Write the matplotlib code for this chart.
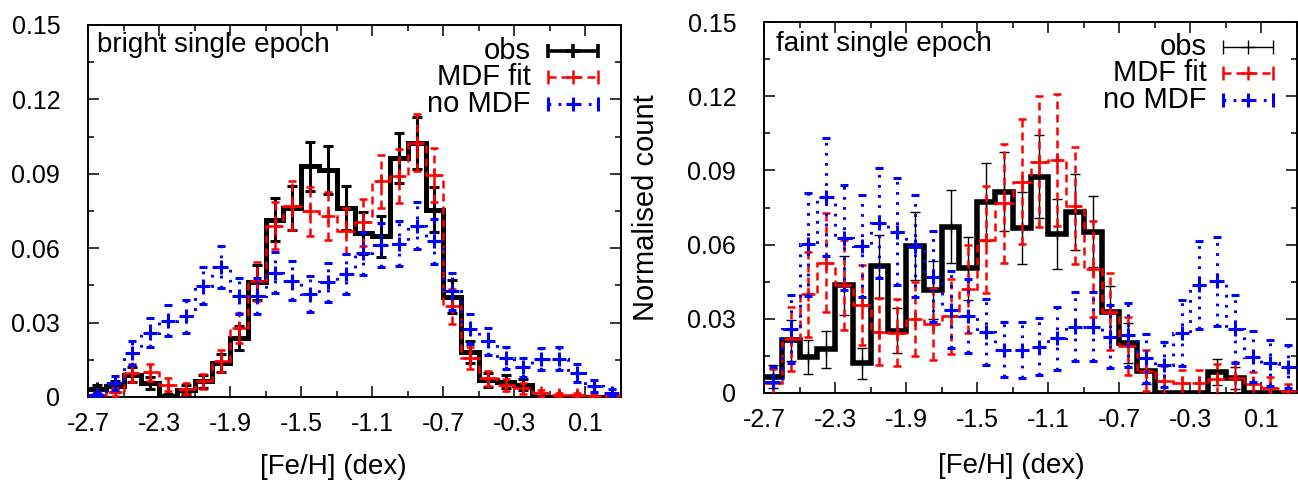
"""
[Fe/H] distributions: observed vs MDF fit vs no-MDF model,
bright and faint single-epoch samples.
"""

import matplotlib

matplotlib.use("Agg")
import matplotlib.pyplot as plt
from matplotlib.ticker import AutoMinorLocator
import numpy as np

plt.rcParams["font.family"] = ["Liberation Sans", "DejaVu Sans"]
plt.rcParams["axes.unicode_minus"] = False

# bin centres (0.1 dex bins)
feh = [-2.65, -2.55, -2.45, -2.35, -2.25, -2.15, -2.05, -1.95, -1.85, -1.75,
       -1.65, -1.55, -1.45, -1.35, -1.25, -1.15, -1.05, -0.95, -0.85, -0.75,
       -0.65, -0.55, -0.45, -0.35, -0.25, -0.15, -0.05, 0.05, 0.15, 0.25]

# bright single epoch
bright_obs = [0.0032, 0.0043, 0.0090, 0.0056, 0.0005, 0.0030, 0.0063, 0.0137, 0.0238, 0.0462,
              0.0715, 0.0762, 0.0931, 0.0915, 0.0762, 0.0661, 0.0648, 0.0964, 0.1025, 0.0756,
              0.0405, 0.0183, 0.0069, 0.0062, 0.0050, 0.0, 0.0, 0.0, 0.0, 0.0]
bright_obs_err = [0.0018, 0.0021, 0.0031, 0.0024, 0.0007, 0.0018, 0.0026, 0.0038, 0.0050, 0.0070,
                  0.0087, 0.0089, 0.0099, 0.0098, 0.0089, 0.0083, 0.0082, 0.0101, 0.0104, 0.0089,
                  0.0065, 0.0044, 0.0027, 0.0026, 0.0023, 0.0, 0.0, 0.0, 0.0, 0.0]
bright_mdf = [0.0010, 0.0019, 0.0097, 0.0099, 0.0050, 0.0034, 0.0063, 0.0146, 0.0278, 0.0466,
              0.0691, 0.0772, 0.0749, 0.0729, 0.0668, 0.0704, 0.0870, 0.0890, 0.1025, 0.0895,
              0.0365, 0.0156, 0.0075, 0.0048, 0.0035, 0.0015, 0.0008, 0.0008, 0.0005, 0.0005]
bright_mdf_err = [0.0011, 0.0016, 0.0035, 0.0036, 0.0025, 0.0021, 0.0029, 0.0044, 0.0060, 0.0078,
                  0.0095, 0.0100, 0.0099, 0.0097, 0.0093, 0.0096, 0.0106, 0.0108, 0.0115, 0.0108,
                  0.0069, 0.0045, 0.0031, 0.0025, 0.0021, 0.0014, 0.0010, 0.0010, 0.0008, 0.0008]
bright_nomdf = [0.0010, 0.0056, 0.0177, 0.0260, 0.0308, 0.0325, 0.0449, 0.0524, 0.0406, 0.0406,
                0.0502, 0.0469, 0.0415, 0.0462, 0.0497, 0.0580, 0.0614, 0.0618, 0.0690, 0.0628,
                0.0426, 0.0275, 0.0224, 0.0156, 0.0120, 0.0152, 0.0155, 0.0098, 0.0046, 0.0018]
bright_nomdf_err = [0.0011, 0.0027, 0.0048, 0.0058, 0.0063, 0.0065, 0.0076, 0.0083, 0.0073, 0.0073,
                    0.0081, 0.0078, 0.0073, 0.0078, 0.0080, 0.0087, 0.0089, 0.0090, 0.0095, 0.0090,
                    0.0074, 0.0060, 0.0054, 0.0045, 0.0039, 0.0044, 0.0045, 0.0036, 0.0024, 0.0015]

# faint single epoch
faint_obs = [0.0066, 0.0214, 0.0147, 0.0177, 0.0435, 0.0120, 0.0512, 0.0252, 0.0594, 0.0417,
             0.0673, 0.0504, 0.0771, 0.0814, 0.0666, 0.0875, 0.0643, 0.0733, 0.0652, 0.0329,
             0.0204, 0.0089, 0.0, 0.0, 0.0, 0.0086, 0.0060, 0.0, 0.0, 0.0]
faint_obs_err = [0.0046, 0.0083, 0.0069, 0.0075, 0.0118, 0.0062, 0.0128, 0.0090, 0.0138, 0.0116,
                 0.0147, 0.0127, 0.0157, 0.0161, 0.0146, 0.0167, 0.0143, 0.0153, 0.0144, 0.0103,
                 0.0081, 0.0053, 0.0, 0.0, 0.0, 0.0052, 0.0044, 0.0, 0.0, 0.0]
faint_mdf = [0.0042, 0.0218, 0.0399, 0.0527, 0.0436, 0.0356, 0.0248, 0.0244, 0.0299, 0.0279,
             0.0310, 0.0422, 0.0620, 0.0767, 0.0855, 0.0935, 0.0942, 0.0758, 0.0500, 0.0329,
             0.0190, 0.0090, 0.0050, 0.0040, 0.0040, 0.0055, 0.0060, 0.0035, 0.0022, 0.0010]
faint_mdf_err = [0.0056, 0.0128, 0.0173, 0.0199, 0.0181, 0.0163, 0.0136, 0.0135, 0.0150, 0.0145,
                 0.0152, 0.0178, 0.0216, 0.0240, 0.0253, 0.0265, 0.0266, 0.0238, 0.0194, 0.0157,
                 0.0119, 0.0082, 0.0061, 0.0055, 0.0055, 0.0064, 0.0067, 0.0051, 0.0041, 0.0027]
faint_nomdf = [0.0046, 0.0260, 0.0602, 0.0793, 0.0628, 0.0594, 0.0686, 0.0652, 0.0594, 0.0470,
               0.0336, 0.0310, 0.0248, 0.0175, 0.0174, 0.0187, 0.0221, 0.0268, 0.0268, 0.0228,
               0.0235, 0.0140, 0.0115, 0.0242, 0.0436, 0.0452, 0.0260, 0.0147, 0.0120, 0.0106]
faint_nomdf_err = [0.0058, 0.0137, 0.0208, 0.0239, 0.0213, 0.0207, 0.0222, 0.0217, 0.0207, 0.0184,
                   0.0156, 0.0149, 0.0134, 0.0112, 0.0112, 0.0116, 0.0126, 0.0139, 0.0139, 0.0128,
                   0.0130, 0.0100, 0.0091, 0.0132, 0.0177, 0.0180, 0.0137, 0.0103, 0.0093, 0.0087]

xticks = [-2.7, -2.3, -1.9, -1.5, -1.1, -0.7, -0.3, 0.1]
xtick_labels = ["-2.7", "-2.3", "-1.9", "-1.5", "-1.1", "-0.7", "-0.3", "0.1"]
yticks = [0.0, 0.03, 0.06, 0.09, 0.12, 0.15]
ytick_labels = ["0", "0.03", "0.06", "0.09", "0.12", "0.15"]
key_labels = ["obs", "MDF fit", "no MDF"]

RED_DASH = (0, (3.2, 2.0))
BLUE_DOT = (0, (0.9, 2.4))


def draw_series(ax, y, err, color, ls, lw, err_lw, capsize, zorder, ms=10):
    x = np.array(feh)
    edges = np.append(x - 0.05, x[-1] + 0.05)
    ax.stairs(y, edges, baseline=None, color=color, lw=lw, linestyle=ls, zorder=zorder)
    eb = ax.errorbar(x, y, yerr=err, fmt="none", ecolor=color, elinewidth=err_lw,
                     capsize=capsize, capthick=err_lw, zorder=zorder)
    eb[2][0].set_linestyle(ls)
    # gnuplot style point marker at each value
    ax.plot(x, y, ls="none", marker="+", ms=ms, mew=err_lw, color=color, zorder=zorder)


def draw_key(ax, styles, y0, x_text, xa, xb):
    for k, (label, (color, ls, lw)) in enumerate(zip(key_labels, styles)):
        y = y0 - k * 0.071
        ax.text(x_text, y, label, transform=ax.transAxes, ha="right", va="center",
                fontsize=21)
        ax.plot([xa, xb], [y, y], transform=ax.transAxes, color=color, lw=lw,
                linestyle=ls, solid_capstyle="butt")
        ax.plot([xa, xb], [y, y], transform=ax.transAxes, color=color, ls="none",
                marker="|", ms=10, mew=lw)
        ax.plot([(xa + xb) / 2], [y], transform=ax.transAxes, color=color, ls="none",
                marker="+", ms=10, mew=lw)


def style_axes(ax):
    ax.set_xlim(-2.7, 0.3)
    ax.set_ylim(0, 0.15)
    ax.set_xticks(xticks)
    ax.set_xticklabels(xtick_labels)
    ax.set_yticks(yticks)
    ax.set_yticklabels(ytick_labels)
    ax.xaxis.set_minor_locator(AutoMinorLocator(2))
    ax.yaxis.set_minor_locator(AutoMinorLocator(2))
    ax.tick_params(which="both", direction="in", top=True, right=True, width=1.1)
    ax.tick_params(which="major", length=8)
    ax.tick_params(which="minor", length=4)
    ax.tick_params(axis="x", which="major", labelsize=18, pad=11)
    ax.tick_params(axis="y", which="major", labelsize=18, pad=20)
    for sp in ax.spines.values():
        sp.set_linewidth(1.4)
    ax.set_xlabel("[Fe/H] (dex)", fontsize=20)


fig = plt.figure(figsize=(12.98, 4.87), dpi=100)
ax1 = fig.add_axes([88 / 1298, 90 / 487, 533 / 1298, 372 / 487])
ax2 = fig.add_axes([764 / 1298, 94 / 487, 533 / 1298, 371 / 487])

# Left: bright single epoch
draw_series(ax1, bright_obs, bright_obs_err, "black", "-", 3.6, 2.2, 3.6, 2)
draw_series(ax1, bright_mdf, bright_mdf_err, "#ff0000", RED_DASH, 1.8, 1.8, 3.0, 3)
draw_series(ax1, bright_nomdf, bright_nomdf_err, "#0000ff", BLUE_DOT, 2.2, 2.2, 3.0, 4)
style_axes(ax1)
ax1.xaxis.set_label_coords(0.46, -0.152)
ax1.text(0.017, 0.946, "bright single epoch", transform=ax1.transAxes, ha="left",
         va="center", fontsize=20)
draw_key(ax1, [("black", "-", 2.6), ("#ff0000", RED_DASH, 1.8), ("#0000ff", BLUE_DOT, 2.2)],
         0.930, 0.831, 0.863, 0.957)

# Right: faint single epoch
draw_series(ax2, faint_obs, faint_obs_err, "black", "-", 4.0, 1.0, 3.6, 2, ms=8)
draw_series(ax2, faint_mdf, faint_mdf_err, "#ff0000", RED_DASH, 1.8, 1.8, 3.0, 3)
draw_series(ax2, faint_nomdf, faint_nomdf_err, "#0000ff", BLUE_DOT, 2.2, 2.2, 3.0, 4)
style_axes(ax2)
ax2.xaxis.set_label_coords(0.464, -0.162)
ax2.set_ylabel("Normalised count", fontsize=21)
ax2.yaxis.set_label_coords(-0.195, 0.5)
ax2.text(0.022, 0.941, "faint single epoch", transform=ax2.transAxes, ha="left",
         va="center", fontsize=20)
draw_key(ax2, [("black", "-", 1.0), ("#ff0000", RED_DASH, 1.8), ("#0000ff", BLUE_DOT, 2.2)],
         0.933, 0.830, 0.861, 0.955)

fig.savefig("out.png", dpi=100)
